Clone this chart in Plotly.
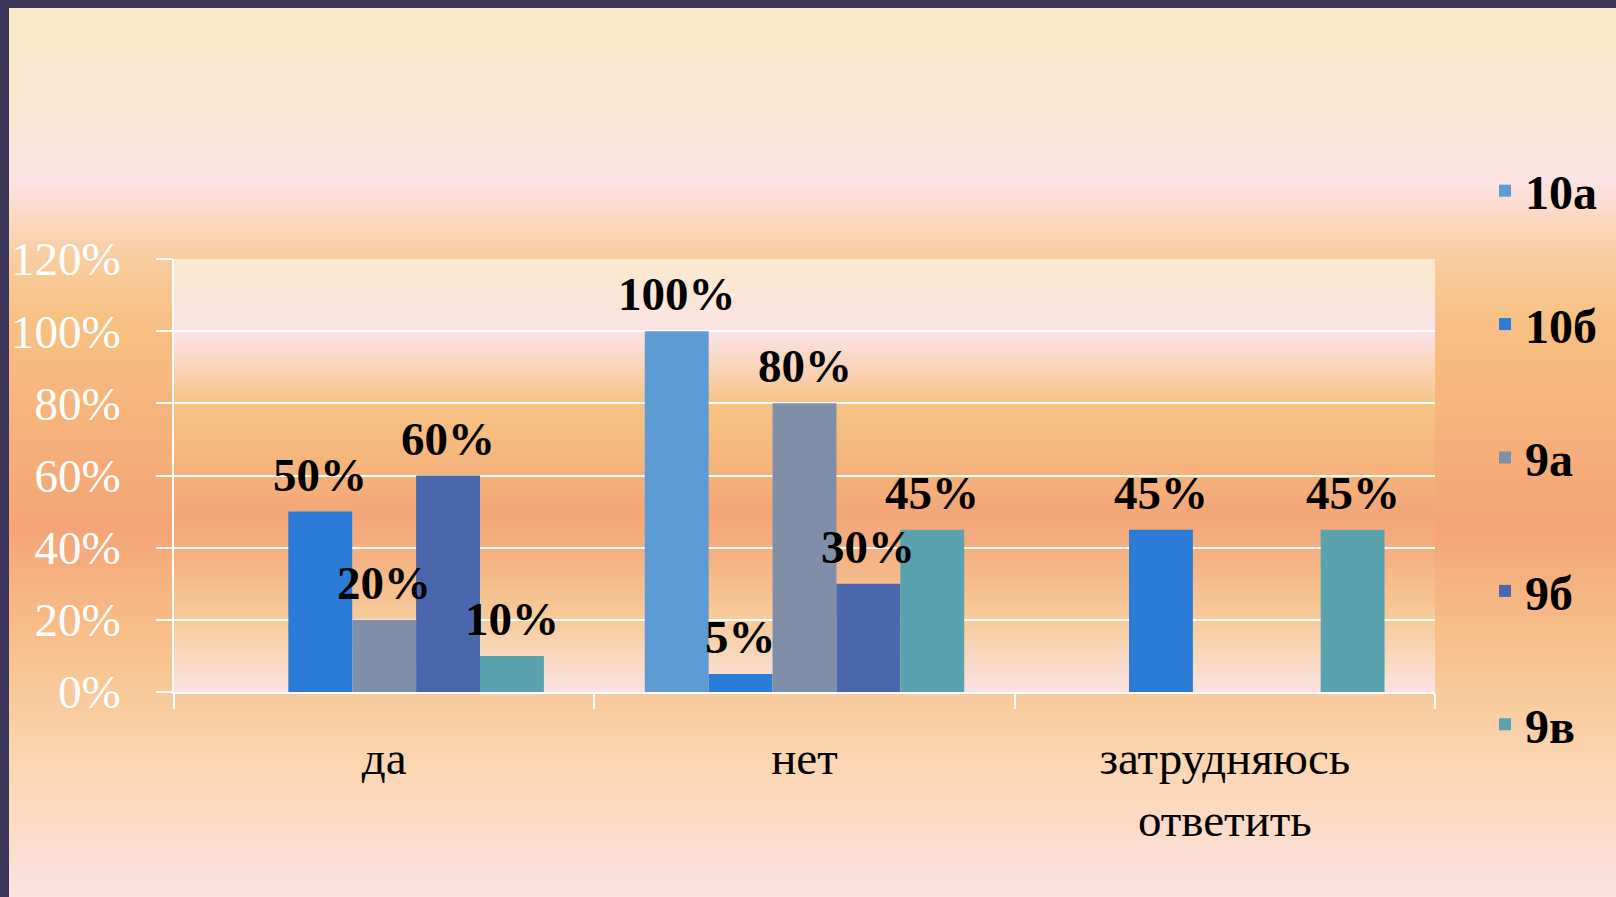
import plotly.graph_objects as go

# ---------------- data ----------------
categories = ["да", "нет", "затрудняюсь<br>ответить"]
series_names = ["10а", "10б", "9а", "9б", "9в"]
v_10a = [None, 1.00, None]
v_10b = [0.50, 0.05, 0.45]
v_9a = [0.20, 0.80, None]
v_9b = [0.60, 0.30, None]
v_9v = [0.10, 0.45, 0.45]
series_values = [v_10a, v_10b, v_9a, v_9b, v_9v]
y_ticks = [0, 0.2, 0.4, 0.6, 0.8, 1.0, 1.2]

# ---------------- style ----------------
colors = ["#5c9bd4", "#2a7cd6", "#7f8faa", "#4a66ad", "#5aa3ae"]
W, H = 1616, 897
ML, MR, MT, MB = 174, 181, 259, 205
PW, PH = W - ML - MR, H - MT - MB
BARGAP = 0.24
SERIF = "Liberation Serif, Times New Roman, serif"


def px_x(px):
    return (px - ML) / PW


def px_y(py):
    return (H - MB - py) / PH


def hex2rgb(h):
    h = h.lstrip("#")
    return tuple(int(h[i:i + 2], 16) for i in (0, 2, 4))


def interp(stops, py):
    for (p0, c0), (p1, c1) in zip(stops, stops[1:]):
        if p0 <= py <= p1:
            t = (py - p0) / (p1 - p0) if p1 > p0 else 0
            a, b = hex2rgb(c0), hex2rgb(c1)
            return "rgb(%d,%d,%d)" % tuple(round(a[i] + (b[i] - a[i]) * t) for i in range(3))
    return stops[-1][1] if py > stops[-1][0] else stops[0][1]


def strips(stops, x0, x1, y0, y1, step):
    out = []
    py = y0
    while py < y1:
        pe = min(py + step, y1)
        out.append(dict(type="rect", xref="paper", yref="paper",
                        x0=px_x(x0), x1=px_x(x1), y0=px_y(min(pe + 0.6, y1)), y1=px_y(py),
                        fillcolor=interp(stops, (py + pe) / 2),
                        line=dict(width=0), layer="below"))
        py = pe
    return out


slide_stops = [(8, "#fae8c9"), (110, "#fbe7d4"), (180, "#fce3e5"), (250, "#f9cfa6"),
               (320, "#f8c183"), (420, "#f6b27b"), (530, "#f5a577"), (640, "#f7c08b"),
               (760, "#fad6b0"), (897, "#fce2e1")]
plot_stops = [(259, "#f9e9cd"), (300, "#fbe6da"), (333, "#fce2e6"), (370, "#f9d3b6"),
              (405, "#f7c384"), (470, "#f5b37b"), (515, "#f4a678"), (560, "#f5b383"),
              (620, "#f7cc9c"), (660, "#f9d9c2"), (692, "#fce2e3")]

shapes = strips(slide_stops, 9, W, 8, H, 3) + strips(plot_stops, ML, W - MR, MT, H - MB, 3)

fig = go.Figure()
for name, vals, col in zip(series_names, series_values, colors):
    fig.add_trace(go.Bar(
        name=name, x=categories, y=vals, marker=dict(color=col, line=dict(width=0)),
        legendgroup=name, cliponaxis=False,
    ))

# value labels placed above each bar (offset of each bar inside its group)
bar_px = (PW / len(categories)) * (1 - BARGAP) / len(series_names)
annotations = []
for i, vals in enumerate(series_values):
    for cat, v in zip(categories, vals):
        if v is None:
            continue
        annotations.append(dict(
            x=cat, y=v, xref="x", yref="y", text="%d%%" % round(v * 100),
            showarrow=False, xanchor="center", yanchor="middle",
            xshift=(i - (len(series_names) - 1) / 2) * bar_px, yshift=37,
            font=dict(family=SERIF, size=47, color="black", weight="bold"),
        ))

fig.update_layout(
    width=W, height=H,
    margin=dict(l=ML, r=MR, t=MT, b=MB, pad=0),
    paper_bgcolor="#3a3556",
    plot_bgcolor="rgba(0,0,0,0)",
    barmode="group", bargap=BARGAP, bargroupgap=0,
    shapes=shapes,
    annotations=annotations,
    showlegend=True,
    legend=dict(x=px_x(1485), y=px_y(153), xanchor="left", yanchor="top",
                bgcolor="rgba(0,0,0,0)", tracegroupgap=68, maxheight=800,
                font=dict(family=SERIF, size=48, color="black", weight="bold")),
)
fig.update_xaxes(showline=True, linecolor="white", linewidth=2,
                 ticks="outside", tickson="boundaries", ticklen=15, tickcolor="white", tickwidth=2,
                 tickfont=dict(family=SERIF, size=47, color="black"),
                 ticklabelstandoff=24, showgrid=False)
fig.update_yaxes(range=[0, 1.2], tickvals=y_ticks, tickformat=".0%",
                 showgrid=True, gridcolor="white", gridwidth=2, zeroline=False,
                 showline=True, linecolor="white", linewidth=2,
                 ticks="outside", ticklen=16, tickcolor="white", tickwidth=2,
                 tickfont=dict(family=SERIF, size=47, color="white"),
                 ticklabelstandoff=26)

fig.write_html("out.html", config={"displayModeBar": False},
               post_script="document.body.style.margin='0';document.body.style.background='#3a3556';")
